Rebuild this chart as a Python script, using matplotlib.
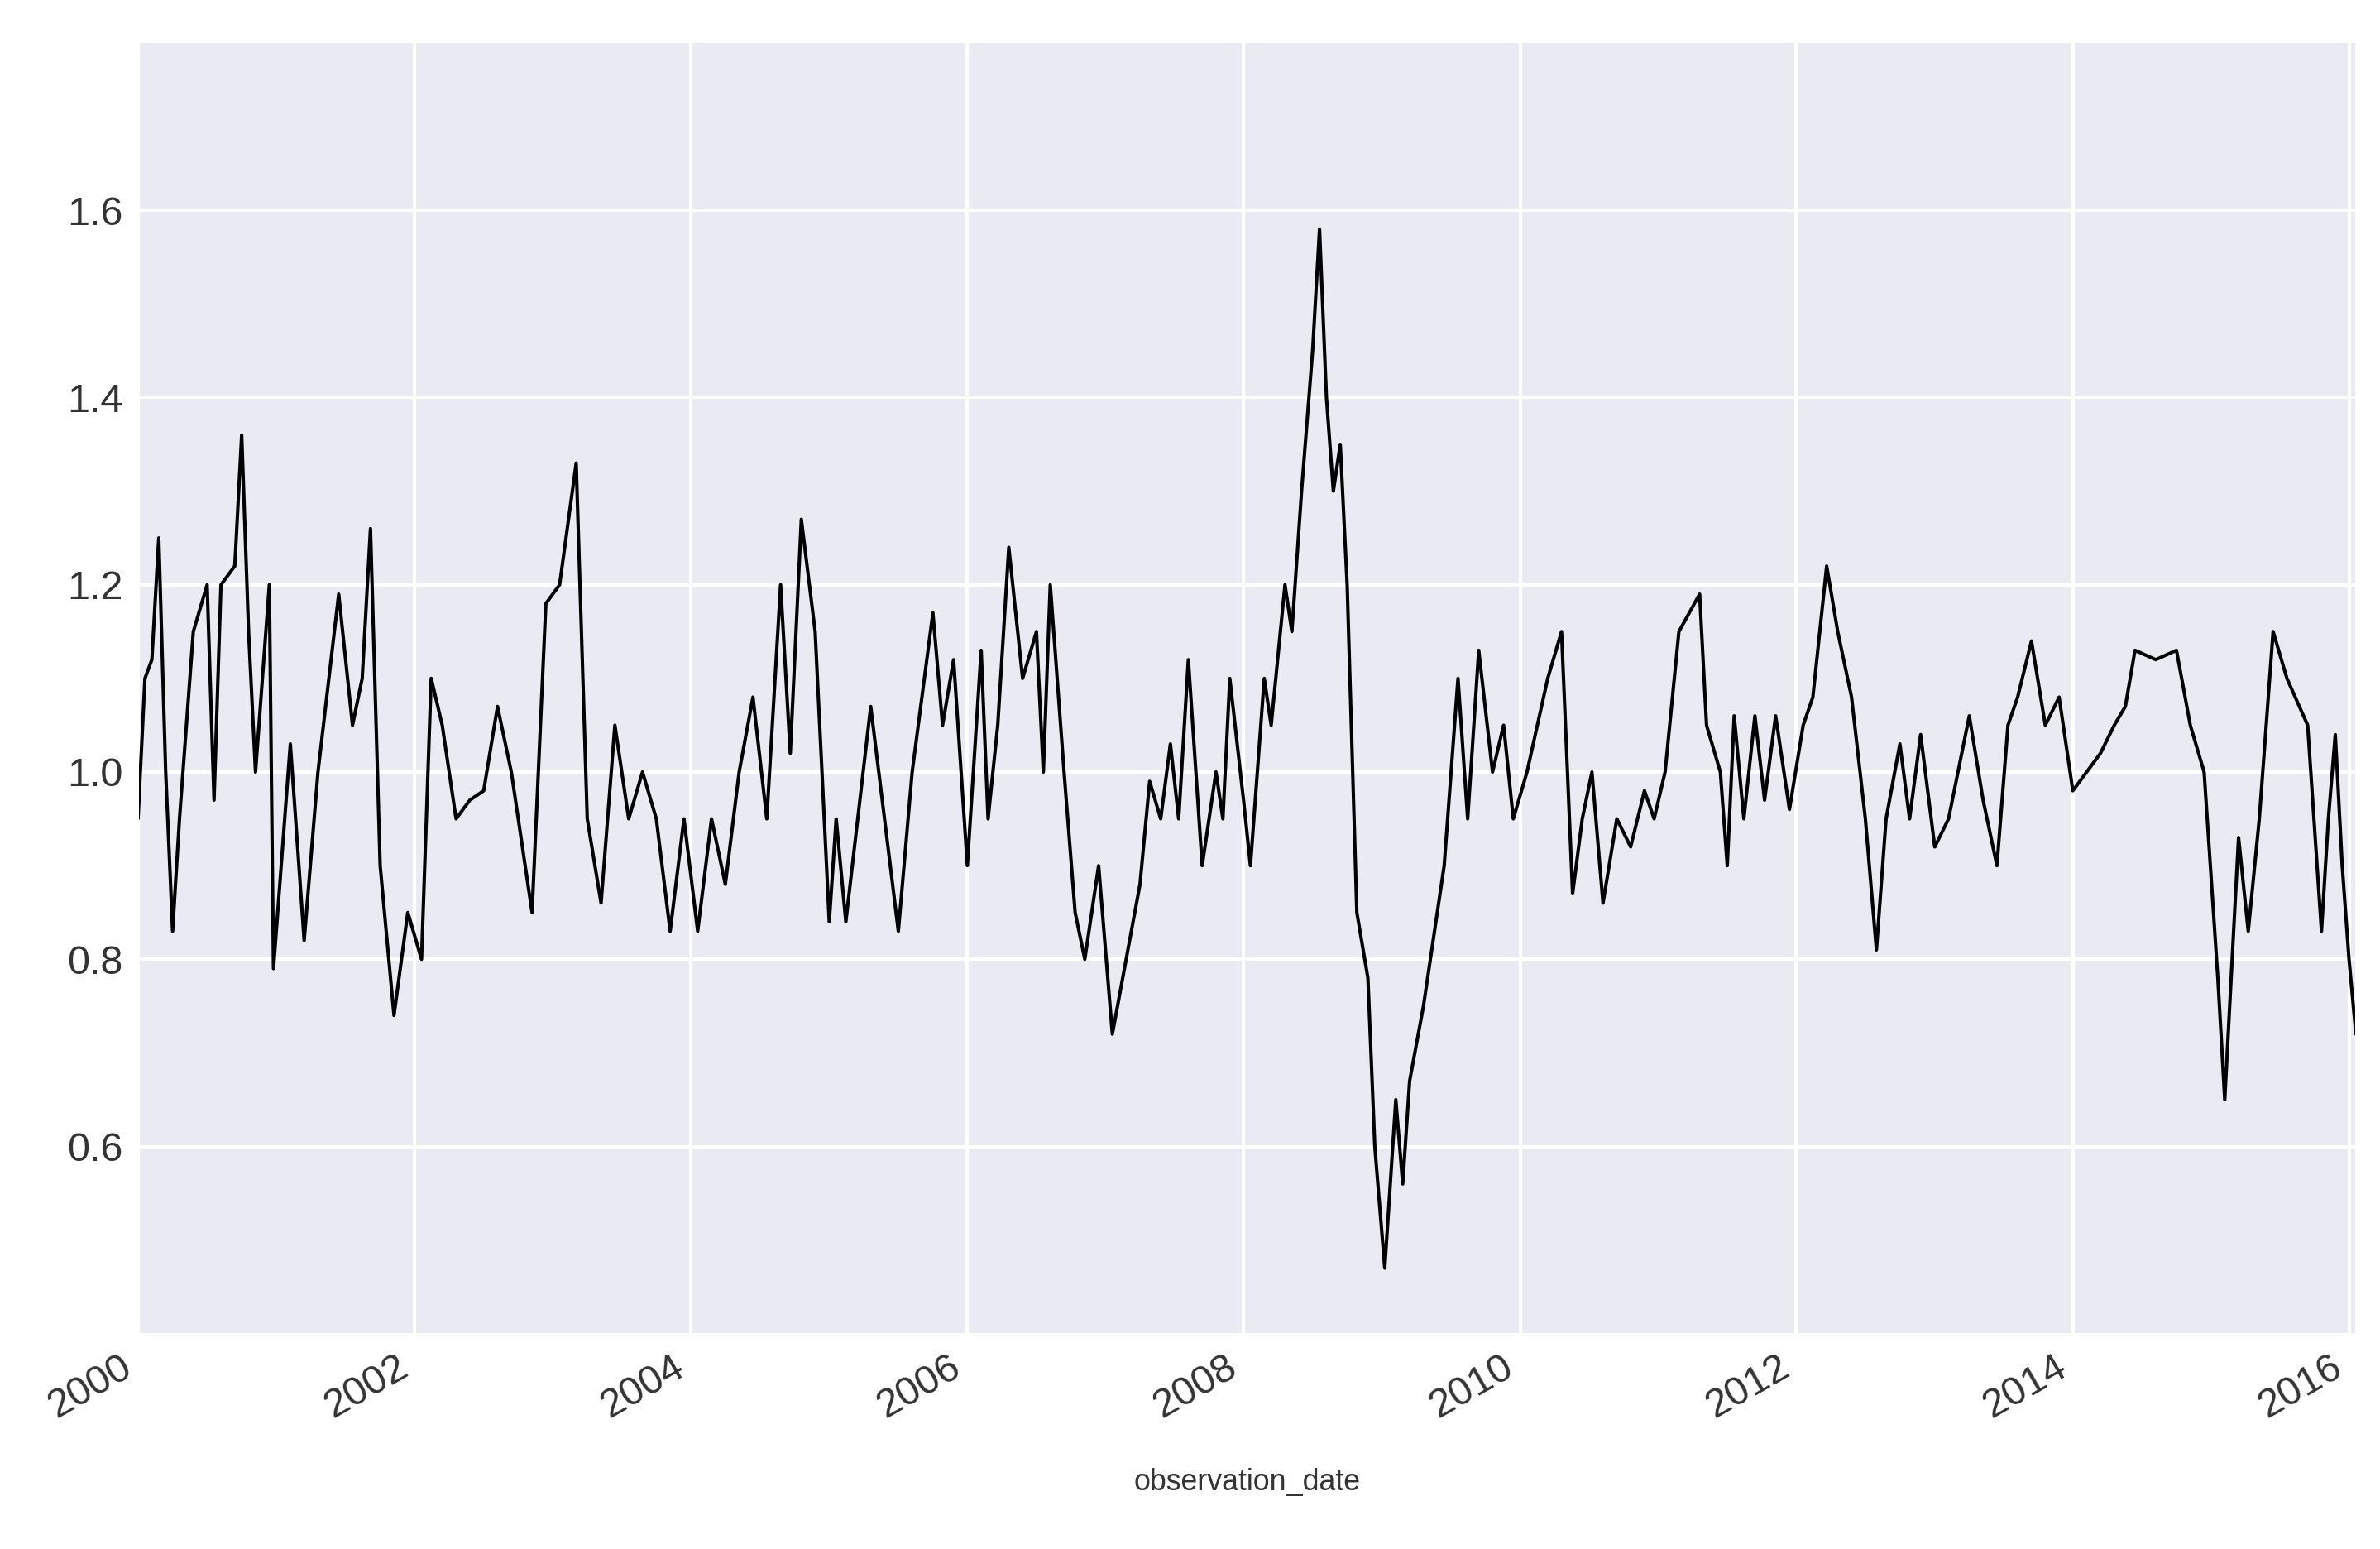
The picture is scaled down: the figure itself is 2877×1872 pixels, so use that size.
import matplotlib
matplotlib.use("Agg")
import matplotlib.pyplot as plt
import matplotlib.dates as mdates
import seaborn as sns
import pandas as pd

years = [2000.0,2000.05,2000.1,2000.15,2000.2,2000.25,2000.3,2000.4,2000.5,2000.55,2000.6,2000.7,2000.75,2000.8,2000.85,2000.9,2000.95,
 2000.98,2001.1,2001.2,2001.3,2001.45,2001.55,2001.62,2001.68,2001.75,2001.85,2001.95,
 2002.05,2002.12,2002.2,2002.3,2002.4,2002.5,2002.6,2002.7,2002.85,2002.95,2003.05,2003.17,
 2003.25,2003.35,2003.45,2003.55,2003.65,2003.75,2003.85,2003.95,
 2004.05,2004.15,2004.25,2004.35,2004.45,2004.55,2004.65,2004.72,2004.8,2004.9,
 2005.0,2005.05,2005.12,2005.3,2005.4,2005.5,2005.6,2005.75,2005.82,2005.9,
 2006.0,2006.1,2006.15,2006.22,2006.3,2006.4,2006.5,2006.55,2006.6,2006.7,2006.78,2006.85,2006.95,
 2007.05,2007.15,2007.25,2007.32,2007.4,2007.47,2007.53,2007.6,2007.7,2007.8,2007.85,2007.9,
 2008.0,2008.05,2008.15,2008.2,2008.3,2008.35,2008.42,2008.5,2008.55,2008.6,2008.65,2008.7,2008.75,2008.82,2008.9,2008.95,
 2009.02,2009.1,2009.15,2009.2,2009.3,2009.35,2009.45,2009.55,2009.62,2009.7,2009.8,2009.88,2009.95,
 2010.05,2010.2,2010.3,2010.38,2010.45,2010.52,2010.6,2010.7,2010.8,2010.9,2010.97,
 2011.05,2011.15,2011.3,2011.35,2011.45,2011.5,2011.55,2011.62,2011.7,2011.77,2011.85,2011.95,
 2012.05,2012.12,2012.22,2012.3,2012.4,2012.5,2012.58,2012.65,2012.75,2012.82,2012.9,
 2013.0,2013.1,2013.25,2013.35,2013.45,2013.53,2013.6,2013.7,2013.8,2013.9,
 2014.0,2014.1,2014.2,2014.3,2014.38,2014.45,2014.6,2014.75,2014.85,2014.95,
 2015.05,2015.1,2015.2,2015.27,2015.35,2015.45,2015.55,2015.7,2015.8,2015.85,2015.9,2015.95,2016.0,2016.05]
values = [0.95,1.1,1.12,1.25,1.0,0.83,0.95,1.15,1.2,0.97,1.2,1.22,1.36,1.15,1.0,1.1,1.2,
 0.79,1.03,0.82,1.0,1.19,1.05,1.1,1.26,0.9,0.74,0.85,
 0.8,1.1,1.05,0.95,0.97,0.98,1.07,1.0,0.85,1.18,1.2,1.33,
 0.95,0.86,1.05,0.95,1.0,0.95,0.83,0.95,
 0.83,0.95,0.88,1.0,1.08,0.95,1.2,1.02,1.27,1.15,
 0.84,0.95,0.84,1.07,0.95,0.83,1.0,1.17,1.05,1.12,
 0.9,1.13,0.95,1.05,1.24,1.1,1.15,1.0,1.2,1.0,0.85,0.8,0.9,
 0.72,0.8,0.88,0.99,0.95,1.03,0.95,1.12,0.9,1.0,0.95,1.1,
 0.97,0.9,1.1,1.05,1.2,1.15,1.3,1.45,1.58,1.4,1.3,1.35,1.2,0.85,0.78,0.6,
 0.47,0.65,0.56,0.67,0.75,0.8,0.9,1.1,0.95,1.13,1.0,1.05,0.95,
 1.0,1.1,1.15,0.87,0.95,1.0,0.86,0.95,0.92,0.98,0.95,
 1.0,1.15,1.19,1.05,1.0,0.9,1.06,0.95,1.06,0.97,1.06,0.96,
 1.05,1.08,1.22,1.15,1.08,0.95,0.81,0.95,1.03,0.95,1.04,
 0.92,0.95,1.06,0.97,0.9,1.05,1.08,1.14,1.05,1.08,
 0.98,1.0,1.02,1.05,1.07,1.13,1.12,1.13,1.05,1.0,
 0.78,0.65,0.93,0.83,0.95,1.15,1.1,1.05,0.83,0.95,1.04,0.9,0.8,0.72]

def to_date(y):
    yr = int(y)
    return pd.Timestamp(year=yr, month=1, day=1) + pd.Timedelta(days=(y - yr) * 365.25)

dates = [to_date(y) for y in years]
s = pd.Series(values, index=pd.DatetimeIndex(dates, name="observation_date"))

sns.set_style("darkgrid", {"grid.linewidth": 1.6})
plt.rcParams['font.family'] = ['Liberation Sans', 'DejaVu Sans']
fig = plt.figure(figsize=(2877/184, 1872/184), dpi=184)
ax = fig.add_axes([0.058, 0.139, 0.932, 0.834])
ax.plot(s.index, s.values, color='black', lw=1.6)
ax.set_xlim(pd.Timestamp("2000-01-01"), pd.Timestamp("2016-01-20"))
ax.set_ylim(0.40, 1.78)
yt = [0.6, 0.8, 1.0, 1.2, 1.4, 1.6]
ax.set_yticks(yt)
ax.set_yticklabels([f"{v:.1f}" for v in yt])
ax.xaxis.set_major_locator(mdates.YearLocator(2))
ax.xaxis.set_major_formatter(mdates.DateFormatter("%Y"))
ax.grid(True, color='white', lw=1.6)
ax.tick_params(labelsize=19, colors='#333333')
for lab in ax.get_xticklabels():
    lab.set_rotation(30); lab.set_ha('right')
ax.set_xlabel("observation_date", fontsize=14, color='#333333', labelpad=20)
fig.savefig("out.png", dpi=184)
